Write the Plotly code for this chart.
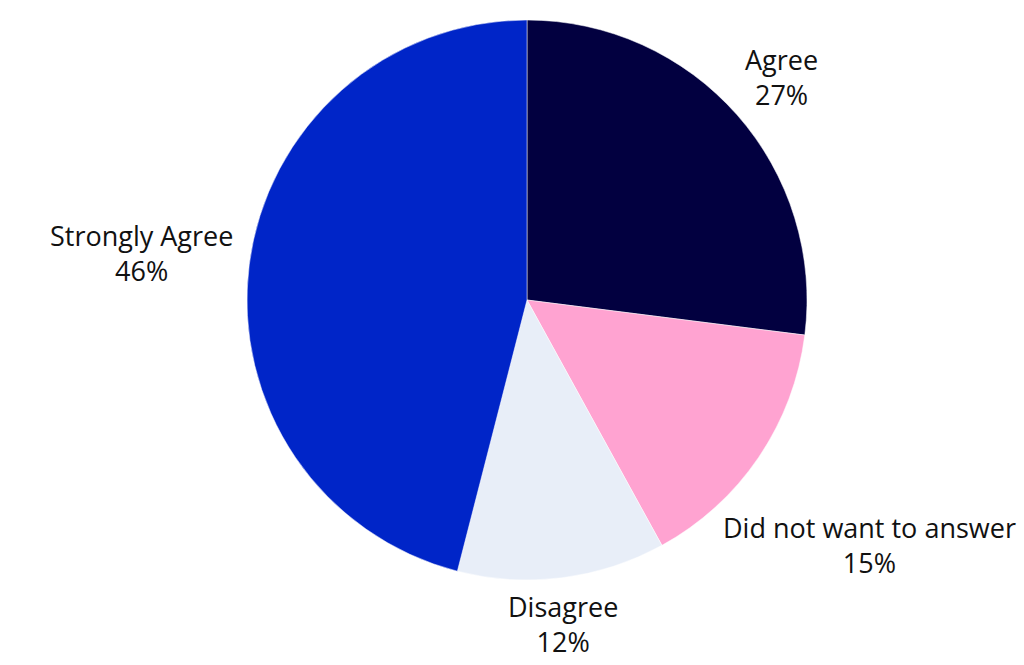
import math
import plotly.graph_objects as go

labels = ["Agree", "Did not want to answer", "Disagree", "Strongly Agree"]
values = [27, 15, 12, 46]
colors = ["#020040", "#FFA3D1", "#E8EEF8", "#0025C8"]

W, H = 1024, 665
ML, MR, MT, MB = 30, 0, 20, 85
FONT = "Open Sans, sans-serif"
FS = 27
GAP = 8
EDGE = 6

fig = go.Figure(go.Pie(
    labels=labels,
    values=values,
    sort=False,
    direction="clockwise",
    rotation=0,
    marker=dict(colors=colors, line=dict(color="#FFFFFF", width=0.5)),
    textinfo="none",
    showlegend=False,
    hoverinfo="label+percent",
))

# outside labels placed from the slice mid-angles
pw, ph = W - ML - MR, H - MT - MB
cx, cy = ML + pw / 2, MT + ph / 2
R = min(pw, ph) / 2
total = sum(values)
cum = 0
annotations = []
for lab, v in zip(labels, values):
    mid = (cum + v / 2) / total * 2 * math.pi
    cum += v
    s, c = math.sin(mid), math.cos(mid)
    d = R + GAP
    px, py = cx + d * s, cy - d * c
    xa = "center" if abs(s) < 0.3 else ("left" if s > 0 else "right")
    ya = "middle" if abs(c) < 0.3 else ("bottom" if c > 0 else "top")
    pct = f"{round(v / total * 100)}%"
    est_w = max(len(lab), len(pct)) * FS * 0.49
    if xa == "left" and px + est_w > W - EDGE:
        left = W - EDGE - est_w
        dx = left - cx
        dy = math.sqrt(max(d * d - dx * dx, 0))
        py = cy + dy if c < 0 else cy - dy
        px, xa = W - EDGE, "right"
    elif xa == "right" and px - est_w < EDGE:
        right = EDGE + est_w
        dx = right - cx
        dy = math.sqrt(max(d * d - dx * dx, 0))
        py = cy + dy if c < 0 else cy - dy
        px, xa = EDGE, "left"
    yshift = {"bottom": -5, "middle": 11, "top": 0}[ya]
    xshift = -6 if (ya == "middle" and s < 0) else (6 if ya == "middle" else 0)
    annotations.append(dict(
        text=f"{lab}<br>{pct}",
        x=(px - ML) / pw, y=(H - MB - py) / ph,
        xref="paper", yref="paper",
        xanchor=xa, yanchor=ya, align="center",
        xshift=xshift, yshift=yshift,
        showarrow=False,
        font=dict(family=FONT, size=FS, color="#111111"),
    ))

fig.update_layout(
    width=W, height=H,
    margin=dict(l=ML, r=MR, t=MT, b=MB),
    paper_bgcolor="white",
    plot_bgcolor="white",
    annotations=annotations,
)

fig.write_html("out.html", config={"displayModeBar": False},
               post_script="document.body.style.margin='0';")
